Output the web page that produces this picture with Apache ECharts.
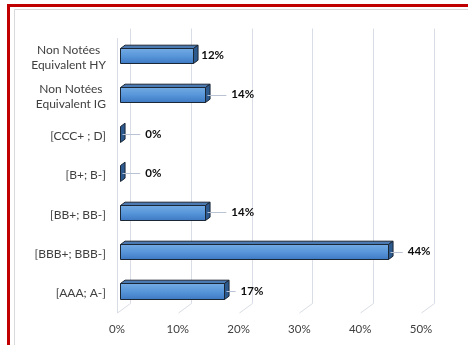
<!DOCTYPE html>
<html>
<head>
<meta charset="utf-8">
<script src="https://cdn.jsdelivr.net/npm/echarts@6/dist/echarts.min.js"></script>
<style>
  html, body { margin: 0; padding: 0; background: #ffffff; }
  #chart { width: 468px; height: 345px; }
</style>
</head>
<body>
<div id="chart"></div>
<script>
// Rating buckets, top to bottom
const categories = [
  'Non Notées\nEquivalent HY',
  'Non Notées\nEquivalent IG',
  '[CCC+ ; D]',
  '[B+; B-]',
  '[BB+; BB-]',
  '[BBB+; BBB-]',
  '[AAA; A-]'
];
// Share of the portfolio, in %
const shares = [12, 14, 0, 0, 14, 44, 17];
// Value axis ticks, in %
const xTicks = [0, 10, 20, 30, 40, 50];

// Label placement: horizontal gap (px) between bar front edge and its value text
const labelGaps = [8, 26, 25, 25, 26, 20, 17];

// Oblique depth of the 3D box (full depth offset in px)
const DEPTH_X = 13, DEPTH_Y = -9.5;
const BAR_FRONT = 0.25, BAR_BACK = 0.6;   // bar depth span, fraction of full depth
const BAR_THICK = 0.39;                   // bar height as a fraction of band
const GRID_COLOR = '#d9dde5';
const LEADER_COLOR = '#b9c3d3';
const FONT = 'Lato, "Open Sans", sans-serif';

const chart = echarts.init(document.getElementById('chart'), null, { renderer: 'canvas' });

function renderWalls(params, api) {
  const tick = api.value(0);
  const cs = params.coordSys;
  const top = cs.y, bottom = cs.y + cs.height;
  const xf = Math.round(api.coord([tick, 0])[0]) + 0.5;
  const children = [];
  // back wall gridline
  children.push({
    type: 'line',
    shape: { x1: xf + DEPTH_X, y1: top + DEPTH_Y, x2: xf + DEPTH_X, y2: bottom + DEPTH_Y },
    style: { stroke: GRID_COLOR, lineWidth: 1 }
  });
  // floor gridline
  children.push({
    type: 'line',
    shape: { x1: xf, y1: bottom, x2: xf + DEPTH_X, y2: bottom + DEPTH_Y },
    style: { stroke: GRID_COLOR, lineWidth: 1 }
  });
  if (tick === 0) {
    // front edge of the side wall
    children.push({
      type: 'line',
      shape: { x1: xf, y1: top, x2: xf, y2: bottom },
      style: { stroke: GRID_COLOR, lineWidth: 1 }
    });
  }
  return { type: 'group', children: children };
}

function renderBars(params, api) {
  const v = api.value(0);
  const idx = api.value(1);
  const p0 = api.coord([0, idx]);
  const p1 = api.coord([v, idx]);
  const band = api.size([0, 1])[1];
  const h = band * BAR_THICK;
  const ax = BAR_FRONT * DEPTH_X, ay = BAR_FRONT * DEPTH_Y;
  const ddx = (BAR_BACK - BAR_FRONT) * DEPTH_X, ddy = (BAR_BACK - BAR_FRONT) * DEPTH_Y;
  const x0 = Math.round(p0[0] + ax) + 0.5;
  const x1 = Math.round(p1[0] + ax) + 0.5;
  const yc = p0[1] + ay;
  const top = Math.round(yc - h / 2) + 0.5;
  const bot = Math.round(yc + h / 2) + 0.5;
  const stroke = '#1c2735';
  const children = [];
  if (x1 - x0 > 0.5) {
    children.push({
      type: 'polygon',
      shape: { points: [[x0, top], [x1, top], [x1 + ddx, top + ddy], [x0 + ddx, top + ddy]] },
      style: { fill: '#4b7ab3', stroke: stroke, lineWidth: 1, lineJoin: 'round' }
    });
    children.push({
      type: 'rect',
      shape: { x: x0, y: top, width: x1 - x0, height: bot - top },
      style: {
        fill: new echarts.graphic.LinearGradient(0, 0, 0, 1, [
          { offset: 0, color: '#74ace4' },
          { offset: 0.5, color: '#5896da' },
          { offset: 1, color: '#3c78c2' }
        ]),
        stroke: stroke, lineWidth: 1
      }
    });
  }
  children.push({
    type: 'polygon',
    shape: { points: [[x1, top], [x1 + ddx, top + ddy], [x1 + ddx, bot + ddy], [x1, bot]] },
    style: { fill: '#2d5a8e', stroke: stroke, lineWidth: 1, lineJoin: 'round' }
  });

  // value label with leader line
  const gap = labelGaps[idx];
  const tx = p1[0] + ax + gap;
  const ly = Math.round(yc) + 0.5;
  if (gap > 12) {
    children.push({
      type: 'line',
      shape: { x1: x1 + 2, y1: ly, x2: tx - 5, y2: ly },
      style: { stroke: LEADER_COLOR, lineWidth: 1 }
    });
  }
  children.push({
    type: 'text',
    x: tx,
    y: yc,
    style: {
      text: v + '%',
      fill: '#0d0d0d',
      font: 'bold 11.5px ' + FONT,
      align: 'left',
      verticalAlign: 'middle'
    }
  });
  return { type: 'group', children: children };
}

const option = {
  animation: false,
  backgroundColor: '#ffffff',
  graphic: [
    // chart area frame
    { type: 'line', shape: { x1: 14.5, y1: 9.5, x2: 468, y2: 9.5 }, style: { stroke: '#d9d9d9', lineWidth: 1 } },
    { type: 'line', shape: { x1: 14.5, y1: 9.5, x2: 14.5, y2: 345 }, style: { stroke: '#d9d9d9', lineWidth: 1 } },
    // red outer frame
    { type: 'rect', shape: { x: 7, y: 4, width: 461, height: 3 }, style: { fill: '#c00000' } },
    { type: 'rect', shape: { x: 7, y: 4, width: 3, height: 341 }, style: { fill: '#c00000' } }
  ],
  grid: { left: 117, right: 47, top: 38, bottom: 32, containLabel: false },
  xAxis: {
    type: 'value',
    min: 0,
    max: 50,
    interval: 10,
    axisLine: { show: false },
    axisTick: { show: false },
    splitLine: { show: false },
    axisLabel: {
      margin: 10,
      color: '#404040',
      fontFamily: FONT,
      fontSize: 11.5,
      formatter: function (val) { return val + '%'; }
    }
  },
  yAxis: {
    type: 'category',
    data: categories,
    inverse: true,
    axisLine: { show: false },
    axisTick: { show: false },
    splitLine: { show: false },
    axisLabel: {
      margin: 11,
      color: '#404040',
      fontFamily: FONT,
      fontSize: 12,
      lineHeight: 15,
      formatter: function (val) {
        return val.split('\n').map(function (s) { return '{c|' + s + '}'; }).join('\n');
      },
      rich: {
        c: {
          align: 'center',
          color: '#404040',
          fontFamily: FONT,
          fontSize: 12,
          lineHeight: 15
        }
      }
    }
  },
  series: [
    {
      type: 'custom',
      name: 'walls',
      silent: true,
      z: 1,
      renderItem: renderWalls,
      data: xTicks.map(function (t) { return [t, 0]; }),
      encode: { x: 0, y: 1 }
    },
    {
      type: 'custom',
      name: 'shares',
      z: 2,
      renderItem: renderBars,
      data: shares.map(function (s, i) { return [s, i]; }),
      encode: { x: 0, y: 1 }
    }
  ]
};

chart.setOption(option);
</script>
</body>
</html>
